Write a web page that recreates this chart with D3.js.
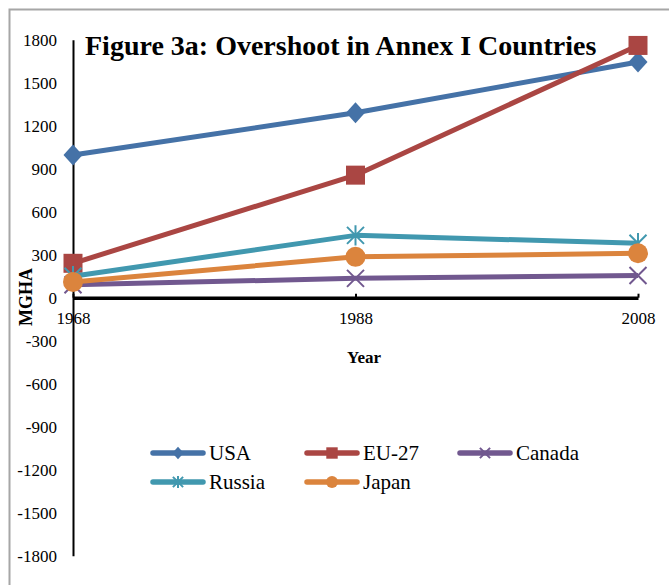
<!DOCTYPE html>
<html>
<head>
<meta charset="utf-8">
<script src="https://cdn.jsdelivr.net/npm/d3@7/dist/d3.min.js"></script>
<style>
  html, body { margin: 0; padding: 0; background: #fff; }
  svg { display: block; }
  text { font-family: "Liberation Serif", "Times New Roman", serif; fill: #000; }
</style>
</head>
<body>
<script>
// Ecological footprint overshoot, million global hectares
const years = [1968, 1988, 2008];
const seriesNames = ["USA", "EU-27", "Canada", "Russia", "Japan"];
const usa    = [995, 1290, 1645];
const eu27   = [240, 855, 1760];
const canada = [90, 135, 155];
const russia = [150, 435, 380];
const japan  = [110, 285, 310];
const yTicks = [1800, 1500, 1200, 900, 600, 300, 0, -300, -600, -900, -1200, -1500, -1800];

const colors  = ["#4572A7", "#AA4643", "#71588F", "#4198AF", "#DB843D"];
const markers = ["diamond", "square", "cross", "star", "circle"];
const values  = [usa, eu27, canada, russia, japan];

const W = 669, H = 585;
const svg = d3.select("body").append("svg").attr("width", W).attr("height", H);

// chart frame (only top and left edges fall inside the canvas)
svg.append("path")
  .attr("d", `M9.5,${H} L9.5,9.5 L${W},9.5`)
  .attr("fill", "none").attr("stroke", "#a6a6a6").attr("stroke-width", 2);

const x = d3.scaleLinear().domain([1968, 2008]).range([73, 638]);
const y = d3.scaleLinear().domain([-1800, 1800]).range([555.7, 39.7]);

const serif = '"Liberation Serif", "Times New Roman", serif';

// y axis
const yAxis = svg.append("g").attr("transform", `translate(${x(1968)},0)`)
  .call(d3.axisLeft(y).tickValues(yTicks).tickSize(0).tickPadding(16).tickFormat(d => String(d)));
yAxis.attr("font-family", null);
yAxis.select(".domain").attr("stroke", "#000").attr("stroke-width", 2);
yAxis.selectAll("text").style("font-family", serif).style("font-size", "17px");

// x axis at zero
const xAxis = svg.append("g").attr("transform", `translate(0,${y(0)})`)
  .call(d3.axisBottom(x).tickValues(years).tickSizeInner(-4).tickSizeOuter(0).tickPadding(14).tickFormat(d => String(d)));
xAxis.attr("font-family", null);
xAxis.select(".domain").attr("stroke", "#000").attr("stroke-width", 3.5);
xAxis.selectAll(".tick line").attr("stroke", "#000").attr("stroke-width", 2);
xAxis.selectAll("text").style("font-family", serif).style("font-size", "17px");

// axis titles
svg.append("text").attr("x", 364).attr("y", 363).attr("text-anchor", "middle")
  .attr("font-size", 17).attr("font-weight", "bold").text("Year");
svg.append("text").attr("transform", "translate(32,297) rotate(-90)").attr("text-anchor", "middle")
  .attr("font-size", 18).attr("font-weight", "bold").text("MGHA");

// chart title
svg.append("text").attr("x", 85).attr("y", 55)
  .attr("font-size", 28).attr("font-weight", "bold")
  .text("Figure 3a: Overshoot in Annex I Countries");

function drawMarker(g, type, cx, cy, color, s) {
  if (type === "diamond") {
    g.append("path").attr("d", `M${cx},${cy - 10.5 * s} L${cx + 9.5 * s},${cy} L${cx},${cy + 10.5 * s} L${cx - 9.5 * s},${cy} Z`)
      .attr("fill", color);
  } else if (type === "square") {
    const h = 9.5 * s;
    g.append("rect").attr("x", cx - h).attr("y", cy - h).attr("width", 2 * h).attr("height", 2 * h)
      .attr("fill", color);
  } else if (type === "circle") {
    g.append("circle").attr("cx", cx).attr("cy", cy).attr("r", 10 * s).attr("fill", color);
  } else {
    const h = 8.5 * s;
    let d = `M${cx - h},${cy - h} L${cx + h},${cy + h} M${cx - h},${cy + h} L${cx + h},${cy - h}`;
    if (type === "star") d += ` M${cx},${cy - h * 1.2} L${cx},${cy + h * 1.2}`;
    g.append("path").attr("d", d).attr("stroke", color).attr("stroke-width", 2).attr("fill", "none");
  }
}

const line = d3.line().x((d, i) => x(years[i])).y(d => y(d));

seriesNames.forEach((name, k) => {
  const g = svg.append("g");
  g.append("path").datum(values[k]).attr("d", line)
    .attr("fill", "none").attr("stroke", colors[k]).attr("stroke-width", 5)
    .attr("stroke-linejoin", "round");
  values[k].forEach((v, i) => drawMarker(g, markers[k], x(years[i]), y(v), colors[k], 1));
});

// legend
const legendPos = [[151, 453], [305, 453], [458, 453], [151, 482], [305, 482]];
seriesNames.forEach((name, k) => {
  const [lx, ly] = legendPos[k];
  const g = svg.append("g");
  g.append("line").attr("x1", lx + 2).attr("x2", lx + 52).attr("y1", ly).attr("y2", ly)
    .attr("stroke", colors[k]).attr("stroke-width", 5.5).attr("stroke-linecap", "round");
  drawMarker(g, markers[k], lx + 27, ly, colors[k], 0.6);
  g.append("text").attr("x", lx + 58).attr("y", ly + 7).attr("font-size", 21).text(name);
});
</script>
</body>
</html>
